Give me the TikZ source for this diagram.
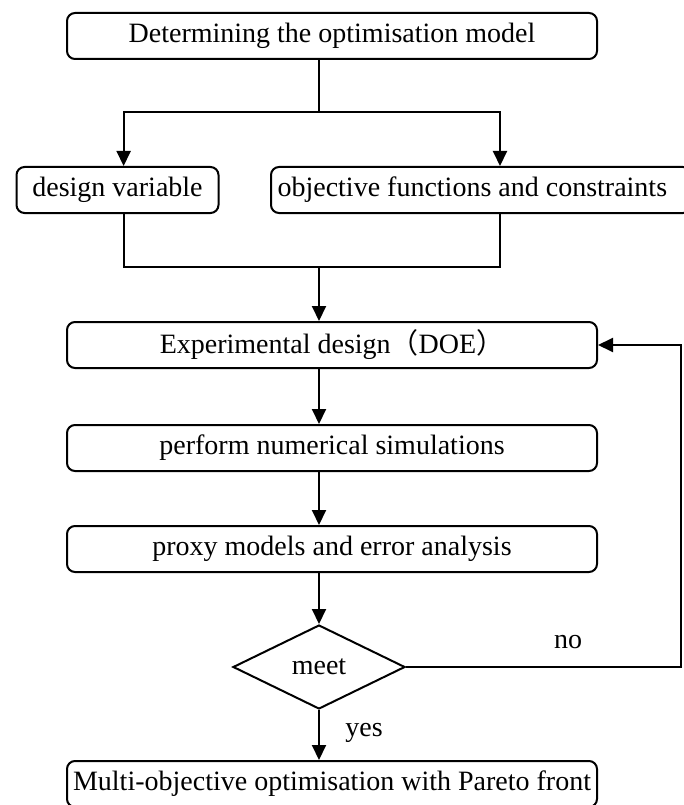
\documentclass[tikz,border=0pt]{standalone}
\usepackage{fontspec}
\setmainfont{Liberation Serif}
\newfontfamily\cjk{Noto Sans CJK SC}
\usetikzlibrary{positioning,arrows.meta,calc,shapes.geometric}
\tikzset{
  blk/.style={rectangle, rounded corners=8pt, draw, line width=2pt, minimum height=46pt,
              inner sep=0pt, font=\fontsize{28}{32}\selectfont},
  wide/.style={blk, minimum width=530pt},
  dec/.style={diamond, draw, line width=2pt, minimum width=172pt, minimum height=84pt,
              inner sep=0pt, aspect=2, font=\fontsize{28}{32}\selectfont},
  flow/.style={line width=2pt, -{Triangle[length=15pt,width=14pt]}},
  ln/.style={line width=2pt},
  lab/.style={font=\fontsize{28}{32}\selectfont},
}

\begin{document}
\begin{tikzpicture}[x=1pt,y=-1pt]
  \useasboundingbox (0,0) rectangle (683,805);
  \coordinate (ax) at (319,0);
  \node[wide] (model) at (332,36) {Determining the optimisation model};
  \node[blk, minimum width=202pt] (var) at (117.5,190) {design variable};
  \node[blk, minimum width=420pt, anchor=west] (obj) at (270,190) {};
  \node[lab, anchor=west] (objtxt) at (274,190) {objective functions and constraints};
  \node[wide] (doe) at (332,345) {Experimental design{\cjk （}DOE{\cjk ）}};
  \node[wide] (sim) at (332,448) {perform numerical simulations};
  \node[wide] (proxy) at (332,549) {proxy models and error analysis};
  \node[dec] (meet) at (319,667) {meet};
  \node[wide] (pareto) at (332,784) {Multi-objective optimisation with Pareto front};
  \coordinate (split) at (319,112);
  \coordinate (join) at (319,267);
  \coordinate (back) at (681,667);
  % split to the two inputs
  \draw[ln] (model.south -| ax) -- (split);
  \draw[flow] (split) -| ($(var.north west)!0.53!(var.north east)$);
  \draw[flow] (split) -| (obj.north -| 500,0);
  % merge
  \draw[ln] ($(var.south west)!0.53!(var.south east)$) |- (join);
  \draw[ln] (obj.south -| 500,0) |- (join);
  \draw[flow] (join) -- (doe.north -| ax);
  \draw[flow] (doe.south -| ax) -- (sim.north -| ax);
  \draw[flow] (sim.south -| ax) -- (proxy.north -| ax);
  \draw[flow] (proxy.south -| ax) -- (meet.north);
  \draw[flow] (meet.south) -- node[lab, right=22pt, pos=0.45] (yes) {yes} (pareto.north -| ax);
  \draw[flow] (meet.east) -- (back) |- (doe.east);
  \node[lab] (no) at (568,642) {no};
\end{tikzpicture}
\end{document}
